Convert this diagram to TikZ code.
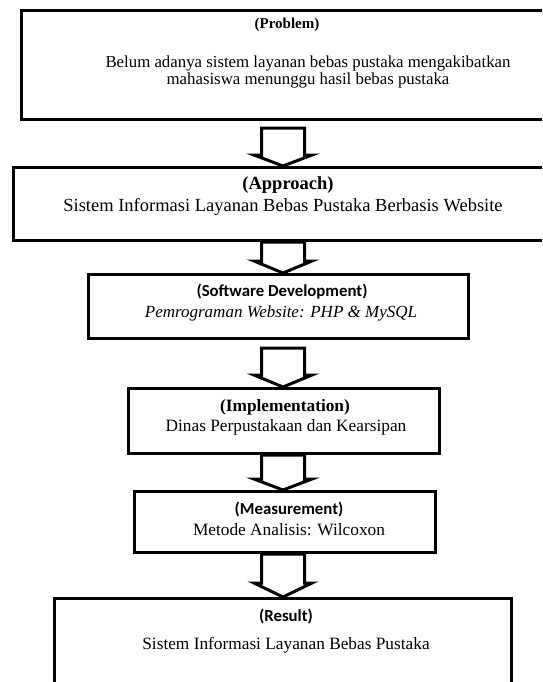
\documentclass[tikz,border=0pt]{standalone}
\usepackage{fontspec}
\setmainfont{Liberation Serif}
\newfontfamily\calfont{Carlito}
\usetikzlibrary{calc}
\newcommand\blockarrow[4]{%
  \draw[blk] let \p1=($(axis |- #1.south)+(0,#3)$), \p2=(axis |- #2.north) in
    (\x1-21.5pt,\y1) -- (\x1-21.5pt,\y2+#4) -- (\x1-29pt,\y2+#4) -- (\x1,\y2)
    -- (\x1+29pt,\y2+#4) -- (\x1+21.5pt,\y2+#4) -- (\x1+21.5pt,\y1) -- cycle;}
\begin{document}
\begin{tikzpicture}[x=1pt,y=-1pt,
  box/.style={draw=black, line width=3.2pt, fill=white, inner sep=0pt, anchor=north west},
  blk/.style={draw=black, line width=3pt, fill=white, line join=miter},
  txt/.style={inner sep=0pt, anchor=center},
  serhead/.style={txt, font=\bfseries\fontsize{17.3}{20}\selectfont},
  sanhead/.style={txt, font=\calfont\bfseries\fontsize{16.8}{20}\selectfont},
  body/.style={txt, font=\fontsize{17.3}{20}\selectfont}]
\useasboundingbox (0,0) rectangle (542,682);
\fill[white] (0,0) rectangle (542,682);
\clip (0,0) rectangle (542,682);
\coordinate (axis) at (283,0);
% boxes
\node[box, minimum width=600pt, minimum height=109pt] (prob) at (20,9) {};
\node[box, minimum width=600pt, minimum height=73pt] (appr) at (12,166) {};
\node[box, minimum width=380pt, minimum height=64pt] (sd) at (87,273) {};
\node[box, minimum width=311pt, minimum height=65pt] (impl) at (127,387) {};
\node[box, minimum width=301pt, minimum height=61pt] (meas) at (133,490) {};
\node[box, minimum width=457pt, minimum height=200pt] (res) at (53,597) {};
% texts
\node[txt, font=\bfseries\fontsize{15}{18}\selectfont] (probh) at (287,25) {(Problem)};
\node[txt, font=\fontsize{16.8}{17}\selectfont, align=center] (probt) at (308,72)
  {Belum adanya sistem layanan bebas pustaka mengakibatkan\\mahasiswa menunggu hasil bebas pustaka};
\node[txt, font=\bfseries\fontsize{18.5}{20}\selectfont] (apprh) at (288,185) {(Approach)};
\node[txt, font=\fontsize{18.5}{20}\selectfont] (apprt) at (283,207) {Sistem Informasi Layanan Bebas Pustaka Berbasis Website};
\node[sanhead] (sdh) at (282,292) {(Software Development)};
\node[body, font=\itshape\fontsize{17}{20}\selectfont] (sdt) at (281,313) {Pemrograman Website: PHP \& MySQL};
\node[serhead] (implh) at (285,407) {(Implementation)};
\node[body] (implt) at (286,427) {Dinas Perpustakaan dan Kearsipan};
\node[sanhead] (meash) at (289,510) {(Measurement)};
\node[body] (meast) at (289,530) {Metode Analisis: Wilcoxon};
\node[sanhead] (resh) at (286,617) {(Result)};
\node[body] (rest) at (286,645) {Sistem Informasi Layanan Bebas Pustaka};
% arrows
\blockarrow{prob}{appr}{7}{11pt}
\blockarrow{appr}{sd}{0}{12pt}
\blockarrow{sd}{impl}{8}{12pt}
\blockarrow{impl}{meas}{0}{11pt}
\blockarrow{meas}{res}{0}{14pt}
\end{tikzpicture}
\end{document}
